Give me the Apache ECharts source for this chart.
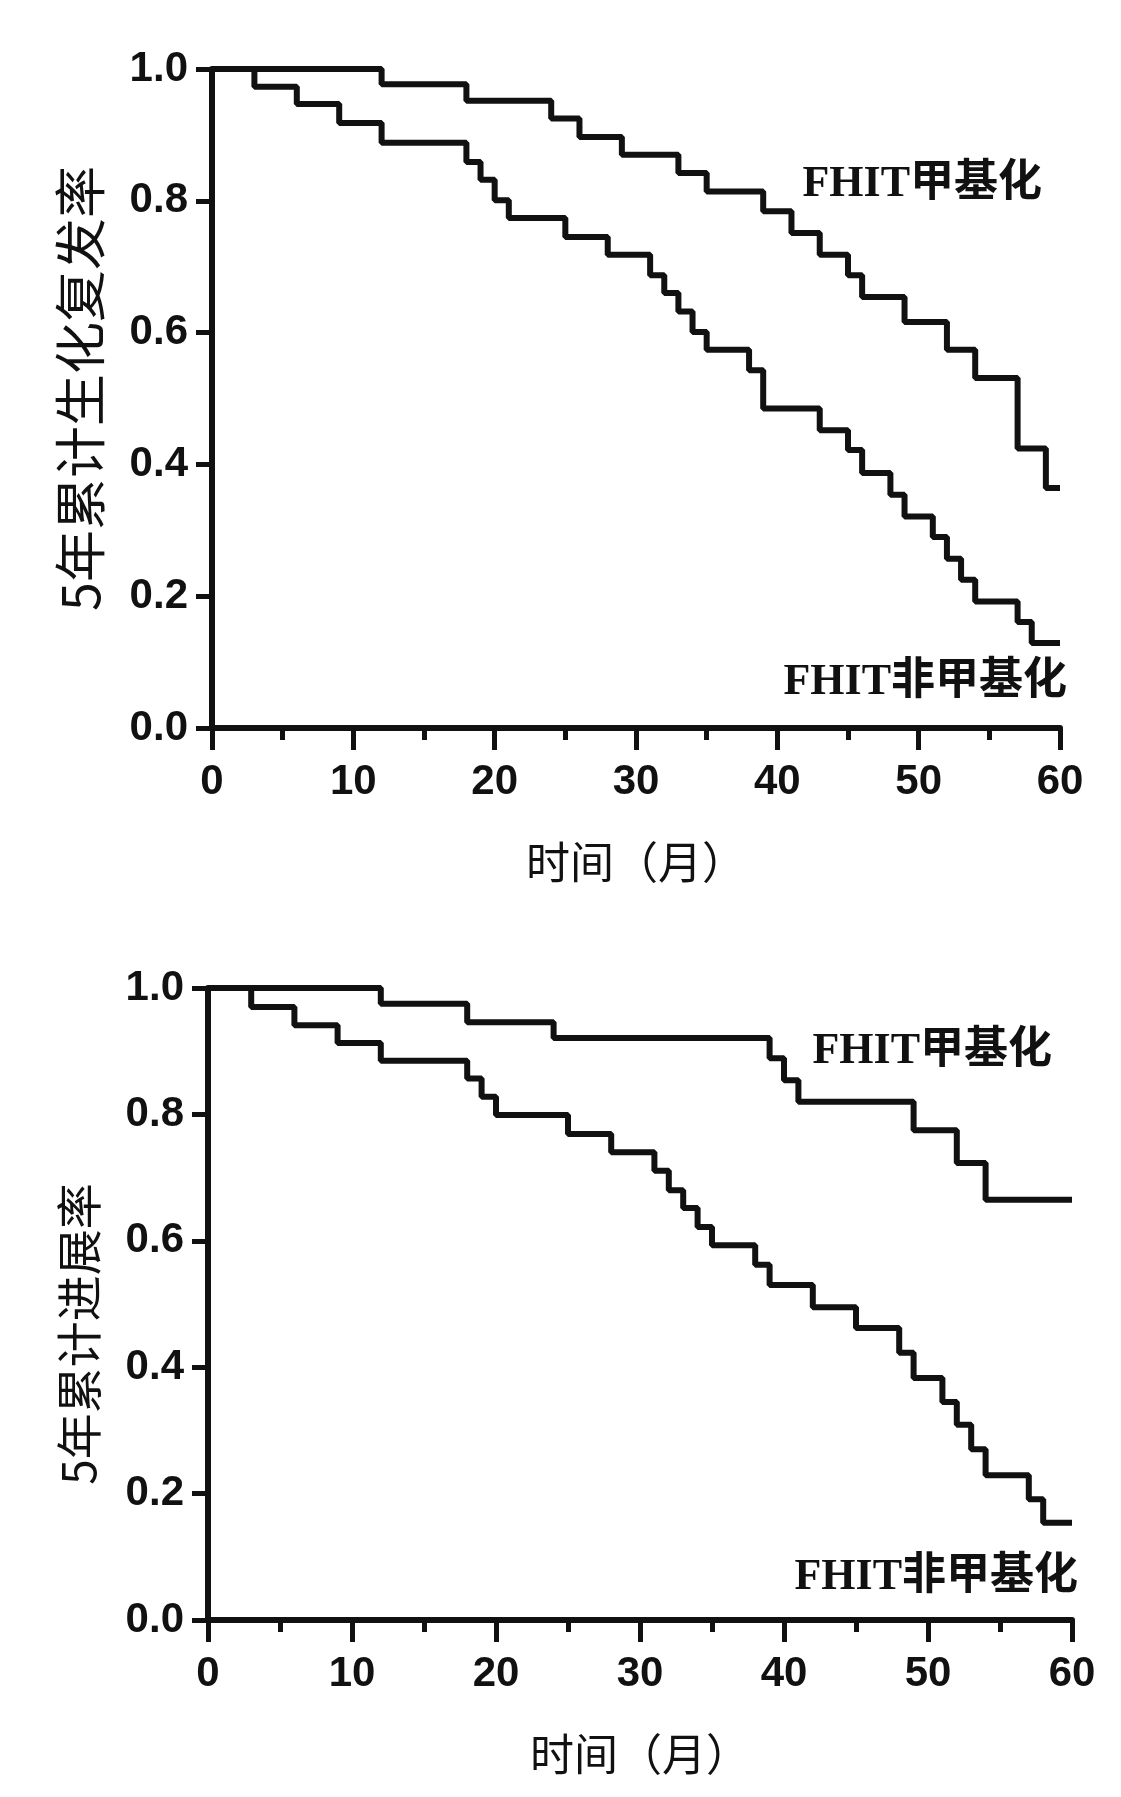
<!DOCTYPE html>
<html>
<head>
<meta charset="utf-8">
<script src="https://cdn.jsdelivr.net/npm/echarts@6/dist/echarts.min.js"></script>
<style>
    html, body { margin: 0; padding: 0; background: #fff; }
    #main { width: 1121px; height: 1797px; }
</style>
</head>
<body>
<div id="main"></div>
<script>
    // 上图：5年累计生化复发率  [月, 率]
    var recurMeth = [[0,1],[12,0.977],[18,0.952],[24,0.925],[26,0.897],[29,0.870],[33,0.842],[35,0.814],
        [39,0.784],[41,0.751],[43,0.718],[45,0.687],[46,0.654],[49,0.616],[52,0.574],[54,0.531],
        [57,0.424],[59,0.364],[60,0.364]];
    var recurUnmeth = [[0,1],[3,0.973],[6,0.947],[9,0.918],[12,0.888],[18,0.859],[19,0.832],[20,0.801],
        [21,0.774],[25,0.745],[28,0.718],[31,0.687],[32,0.660],[33,0.632],[34,0.601],[35,0.574],
        [38,0.543],[39,0.485],[43,0.452],[45,0.422],[46,0.387],[48,0.354],[49,0.321],[51,0.290],
        [52,0.257],[53,0.225],[54,0.192],[57,0.161],[58,0.129],[60,0.129]];

    // 下图：5年累计进展率
    var progMeth = [[0,1],[12,0.975],[18,0.946],[24,0.921],[39,0.889],[40,0.854],[41,0.820],
        [49,0.775],[52,0.723],[54,0.665],[60,0.665]];
    var progUnmeth = [[0,1],[3,0.970],[6,0.941],[9,0.913],[12,0.885],[18,0.857],[19,0.828],[20,0.799],
        [25,0.769],[28,0.740],[31,0.711],[32,0.680],[33,0.652],[34,0.622],[35,0.593],[38,0.562],
        [39,0.530],[42,0.495],[45,0.462],[48,0.423],[49,0.383],[51,0.345],[52,0.309],[53,0.270],
        [54,0.229],[57,0.191],[58,0.154],[60,0.154]];

    var yLabels = ['0.0', '0.2', '0.4', '0.6', '0.8', '1.0'];
    var xName = '时间（月）';
    var yNames = ['5年累计生化复发率', '5年累计进展率'];
    var groupNames = ['FHIT甲基化', 'FHIT非甲基化'];

    var ink = '#111';
    var tickFont = { color: ink, fontSize: 42, fontWeight: 'bold', fontFamily: 'Liberation Sans, Arial, sans-serif' };
    var nameFont = { color: ink, fontSize: 44, fontFamily: 'Noto Sans CJK SC' };
    var tagFont = 'bold 44px "Liberation Serif", "Noto Sans CJK SC", serif';

    function xAxisOf(i) {
        return {
            type: 'value', gridIndex: i, min: 0, max: 60, interval: 10,
            name: xName, nameLocation: 'middle', nameGap: 112, nameTextStyle: nameFont,
            axisLine: { show: true, onZero: false, lineStyle: { color: ink, width: 6 } },
            axisTick: { show: true, inside: false, length: 22, lineStyle: { color: ink, width: 5 } },
            minorTick: { show: true, splitNumber: 2, length: 12, lineStyle: { color: ink, width: 5 } },
            axisLabel: Object.assign({ margin: 33 }, tickFont),
            splitLine: { show: false }
        };
    }

    function yAxisOf(i, size, pad) {
        return {
            type: 'value', gridIndex: i, min: 0, max: 1, interval: 0.2,
            name: yNames[i], nameLocation: 'middle', nameGap: 106,
            nameTextStyle: Object.assign({}, nameFont, { fontSize: size, padding: pad }),
            axisLine: { show: true, onZero: false, lineStyle: { color: ink, width: 6 } },
            axisTick: { show: true, inside: false, length: 16, lineStyle: { color: ink, width: 5 } },
            axisLabel: Object.assign({
                margin: 24,
                formatter: function (v) { return yLabels[Math.round(v * 5)]; }
            }, tickFont),
            splitLine: { show: false }
        };
    }

    function curve(data, i) {
        return {
            type: 'line', xAxisIndex: i, yAxisIndex: i, step: 'end', data: data,
            symbol: 'none', silent: true, animation: false,
            lineStyle: { color: ink, width: 6 }
        };
    }

    function tag(text, right, cy) {
        return {
            type: 'text', right: 1121 - right, top: cy - 24,
            style: { text: text, font: tagFont, fill: ink }
        };
    }

    var myChart = echarts.init(document.getElementById('main'));

    var option = {
        backgroundColor: '#fff',
        animation: false,
        grid: [
            { left: 212, right: 61, top: 69, height: 659, outerBoundsMode: 'none' },
            { left: 208, right: 49, top: 988, height: 632, outerBoundsMode: 'none' }
        ],
        xAxis: [xAxisOf(0), xAxisOf(1)],
        yAxis: [yAxisOf(0, 52, [0, 0, 0, 20]), yAxisOf(1, 46, [0, 60, 0, 0])],
        series: [
            curve(recurMeth, 0),
            curve(recurUnmeth, 0),
            curve(progMeth, 1),
            curve(progUnmeth, 1)
        ],
        graphic: [
            tag(groupNames[0], 1042, 187),
            tag(groupNames[1], 1067, 685),
            tag(groupNames[0], 1052, 1054),
            tag(groupNames[1], 1078, 1580)
        ]
    };

    myChart.setOption(option);
</script>
</body>
</html>
